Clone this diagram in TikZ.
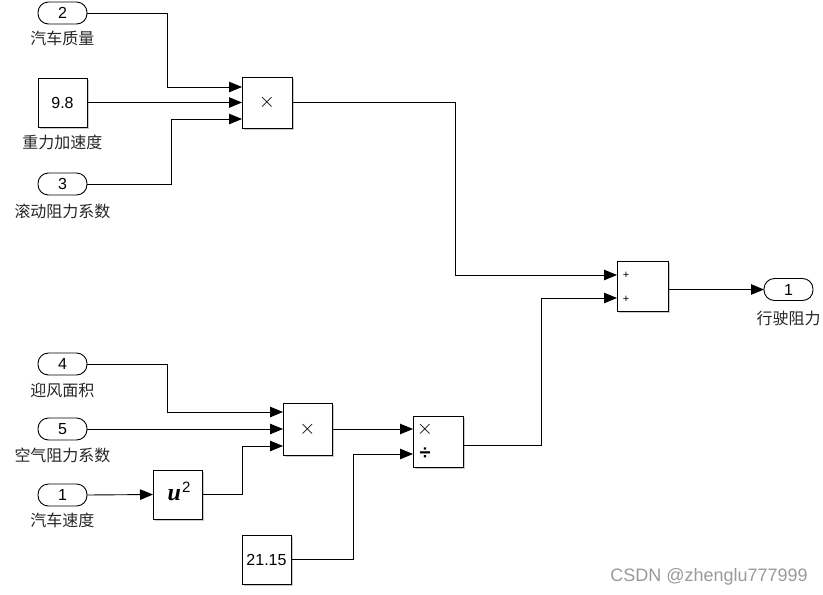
\documentclass[tikz,border=0pt]{standalone}
\usepackage{fontspec}
\setmainfont{Liberation Sans}
\newfontfamily\cjk{Noto Sans CJK SC}
\newfontfamily\serifbi{Liberation Serif}
\usetikzlibrary{arrows.meta,shadows,calc}
\tikzset{
  port/.style={draw, line width=0.9pt, rounded corners=10.5pt, minimum width=49pt, minimum height=22pt, inner sep=0pt, outer sep=0pt, font=\fontsize{16}{16}\selectfont},
  blk/.style={draw, line width=0.9pt, fill=white, inner sep=0pt, outer sep=0pt, drop shadow={shadow xshift=1.6pt, shadow yshift=-1.6pt, fill=black!35, opacity=0.6}},
  lbl/.style={font=\cjk\fontsize{16}{16}\selectfont, inner sep=0pt, text=black!85},
  wire/.style={line width=0.9pt, -{Triangle[length=13pt,width=10.5pt]}},
  mul/.style={font=\fontsize{22}{22}\selectfont, inner sep=0pt},
}
\begin{document}
\begin{tikzpicture}[x=1pt,y=-1pt]
\useasboundingbox (0,0) rectangle (823,595);
% top group
\node[port] (in2) at (62.5,13) {2};
\node[lbl] (l2) at (62.5,38) {汽车质量};
\node[blk, minimum width=49pt, minimum height=49pt, font=\fontsize{16}{16}\selectfont] (k98) at (62.5,102.5) {9.8};
\node[lbl] (lk) at (62.5,142) {重力加速度};
\node[port] (in3) at (62.5,184) {3};
\node[lbl] (l3) at (62.5,211) {滚动阻力系数};
\node[blk, minimum width=50pt, minimum height=51pt] (p1) at (267,102.5) {};
\node[mul] (p1x) at (p1.center) {$\times$};
\coordinate (p1a) at (242,87);
\coordinate (p1b) at (242,102.5);
\coordinate (p1c) at (242,119);
\draw[wire] (in2.east) -| (167,87) -- (p1a);
\draw[wire] (k98.east) -- (p1b);
\draw[wire] (in3.east) -| (171,119) -- (p1c);
% sum
\node[blk, minimum width=51pt, minimum height=50pt] (sum) at (642.5,286) {};
\node[font=\fontsize{11}{11}\selectfont, inner sep=0pt] (s1) at (626,275) {+};
\node[font=\fontsize{11}{11}\selectfont, inner sep=0pt] (s2) at (626,299) {+};
\coordinate (suma) at (617,275);
\coordinate (sumb) at (617,298);
\coordinate (sumo) at (668,289.5);
\node[port] (out1) at (788.5,289.5) {1};
\node[lbl] (lo) at (788.5,318) {行驶阻力};
\draw[wire] (p1.east) -| (455,275) -- (suma);
\draw[wire] (sumo) -- (out1.west);
% bottom group
\node[port] (in4) at (62.5,364) {4};
\node[lbl] (l4) at (62.5,390) {迎风面积};
\node[port] (in5) at (62.5,429) {5};
\node[lbl] (l5) at (62.5,455) {空气阻力系数};
\node[port] (in1) at (62.5,495) {1};
\node[lbl] (l1) at (62.5,520) {汽车速度};
\node[blk, minimum width=49pt, minimum height=49pt] (sq) at (177.5,494.5) {};
\node[inner sep=0pt, anchor=base] (sqt) at (179,500) {\serifbi\bfseries\itshape\fontsize{24}{24}\selectfont u\kern1pt\raisebox{8pt}{\normalfont\fontsize{15}{15}\selectfont 2}};
\node[blk, minimum width=49pt, minimum height=52pt] (p2) at (307.5,429) {};
\node[mul] (p2x) at (p2.center) {$\times$};
\coordinate (p2a) at (283,412);
\coordinate (p2b) at (283,429);
\coordinate (p2c) at (283,446);
\draw[wire] (in1.east) -- (sq.west);
\draw[wire] (in4.east) -| (167,412) -- (p2a);
\draw[wire] (in5.east) -- (p2b);
\draw[wire] (sq.east) -| (242,446) -- (p2c);
\node[blk, minimum width=50pt, minimum height=51pt] (dv) at (438,441.5) {};
\node[mul] (dvm) at (425,429) {$\times$};
\node[font=\fontsize{20}{20}\selectfont\bfseries, inner sep=0pt] (dvd) at (425,454) {÷};
\coordinate (dva) at (413,429);
\coordinate (dvb) at (413,454);
\coordinate (dvo) at (463,445);
\node[blk, minimum width=49pt, minimum height=49pt, font=\fontsize{16}{16}\selectfont] (k2115) at (266.5,559.5) {21.15};
\draw[wire] (p2.east) -- (dva);
\draw[wire] (k2115.east) -| (353,454) -- (dvb);
\draw[wire] (dvo) -| (541,298) -- (sumb);
% watermark
\node[font=\fontsize{18}{18}\selectfont, text=black!40, anchor=east, inner sep=0pt] (wm) at (808,577) {CSDN @zhenglu777999};
\end{tikzpicture}
\end{document}
